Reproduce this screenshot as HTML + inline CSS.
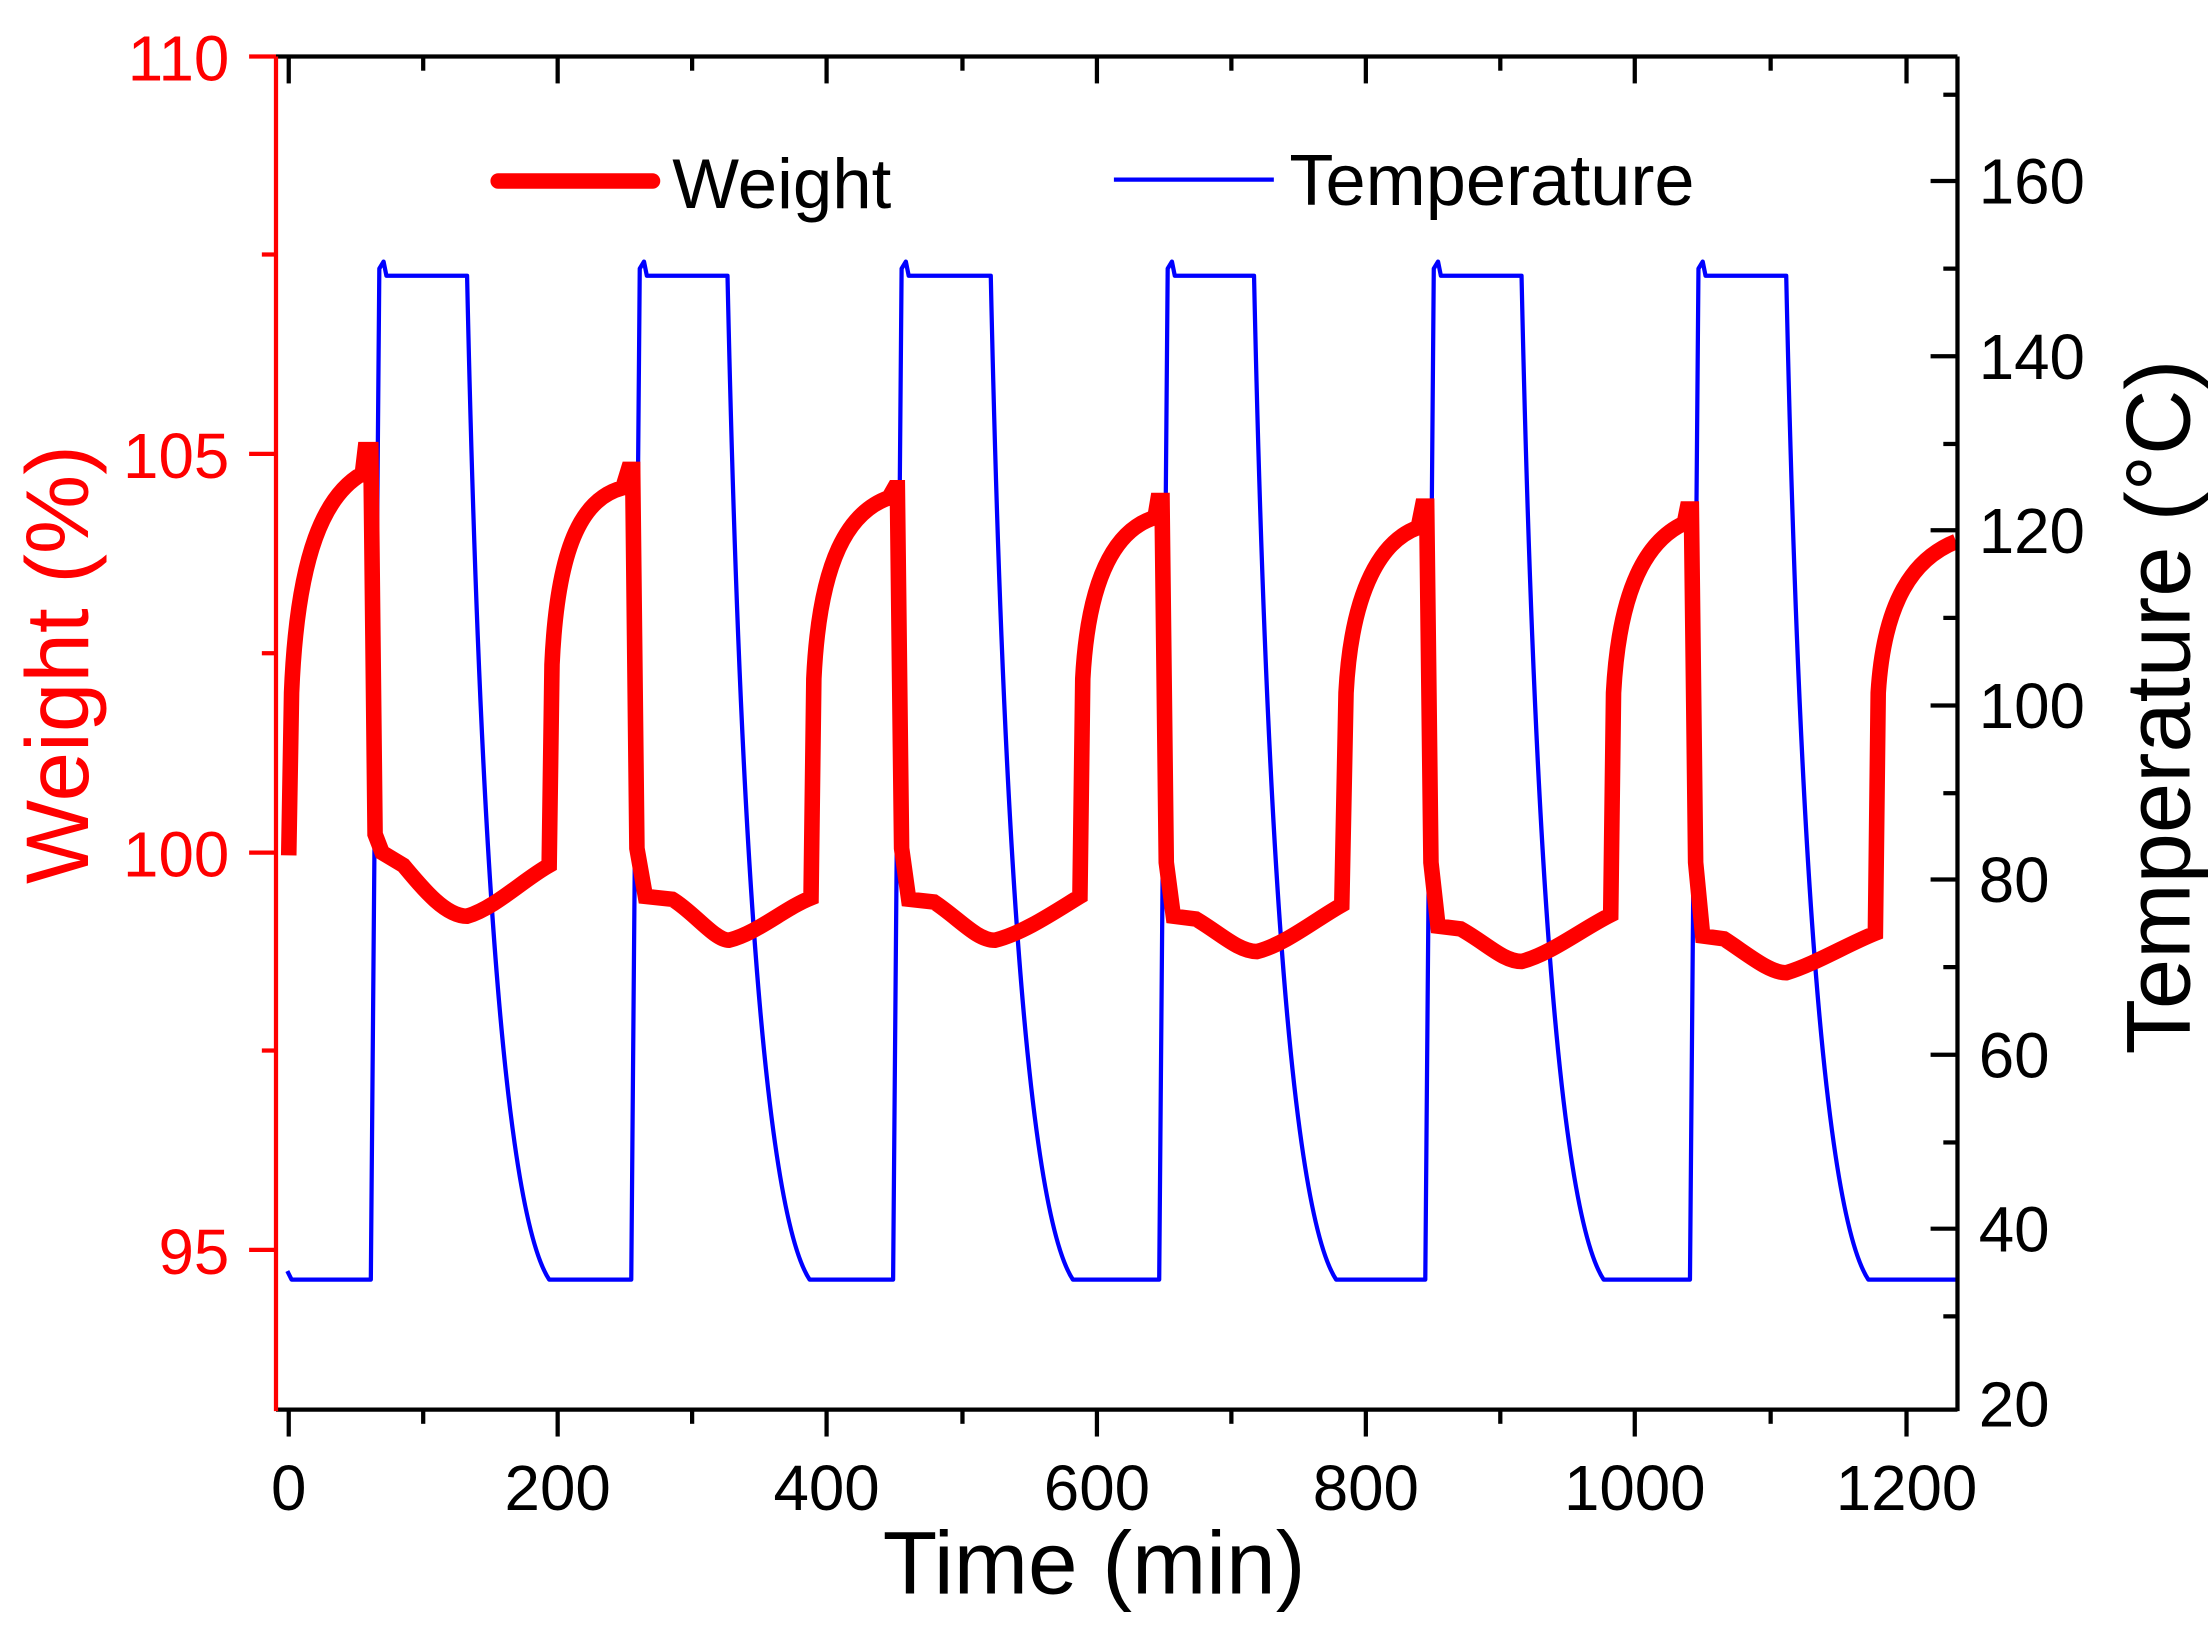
<!DOCTYPE html>
<html><head><meta charset="utf-8"><style>
html,body{margin:0;padding:0;background:#fff;}
svg{display:block;}
text{font-family:"Liberation Sans",Arial,sans-serif;}
</style></head><body>
<svg width="2208" height="1626" viewBox="0 0 1560 1150" preserveAspectRatio="none" xmlns="http://www.w3.org/2000/svg">
<rect width="1560" height="1150" fill="#fff"/>
<!-- temperature -->
<path fill="none" stroke="#0000ff" stroke-width="3" stroke-linejoin="round" d="
M203,899 L206,905 L262,905 L268,190 L271,185 L273,195 L330,195 C337,520 352,850 388,905 L446,905
L452,190 L455,185 L457,195 L514,195 C521,520 536,850 572,905 L631,905
L637,190 L640,185 L642,195 L700,195 C707,520 722,850 758,905 L819,905
L825,190 L828,185 L830,195 L886,195 C893,520 908,850 944,905 L1007,905
L1013,190 L1016,185 L1018,195 L1075,195 C1082,520 1097,850 1133,905 L1194,905
L1200,190 L1203,185 L1205,195 L1262,195 C1269,520 1284,850 1320,905 L1382,905"/>
<!-- weight -->
<path fill="none" stroke="#ff0000" stroke-width="11" stroke-linejoin="miter" d="
M204,605 L206,490 C210,390 230,350 256,335 L258,318 L262,318 L265,590 L270,603 L285,612 C300,630 315,648 330,648 C350,642 370,622 388,612
L390,470 C394,380 414,352 440,345 L444,332 L447,332 L450,600 L456,634 L475,636 C490,645 505,665 515,665 C535,660 555,642 573,635
L575,480 C579,395 600,362 628,352 L632,345 L634,345 L637,600 L642,636 L660,638 C678,650 690,665 703,665 C723,660 745,645 763,634
L765,480 C769,405 790,374 816,366 L818,354 L821,354 L824,610 L829,648 L845,650 C862,660 875,673 888,673 C908,668 930,650 948,640
L951,490 C955,415 977,382 1002,373 L1005,358 L1008,358 L1011,610 L1016,655 L1032,657 C1050,667 1062,680 1075,680 C1095,675 1118,657 1138,647
L1140,490 C1144,415 1164,382 1190,370 L1192,360 L1195,360 L1198,610 L1203,662 L1218,664 C1235,675 1250,688 1262,688 C1282,682 1305,668 1325,660
L1327,490 C1331,425 1352,395 1382,383"/>
<!-- axes -->
<line x1="195" y1="40" x2="1383" y2="40" stroke="#000" stroke-width="3"/>
<line x1="195" y1="997" x2="1383" y2="997" stroke="#000" stroke-width="3"/>
<line x1="1383" y1="40" x2="1383" y2="998" stroke="#000" stroke-width="3"/>
<line x1="195" y1="40" x2="195" y2="998" stroke="#ff0000" stroke-width="3"/>
<g stroke="#ff0000" stroke-width="3">
<line x1="176" y1="40" x2="195" y2="40"/><line x1="176" y1="321" x2="195" y2="321"/>
<line x1="176" y1="603" x2="195" y2="603"/><line x1="176" y1="884" x2="195" y2="884"/>
<line x1="185" y1="180" x2="195" y2="180"/><line x1="185" y1="462" x2="195" y2="462"/><line x1="185" y1="743" x2="195" y2="743"/>
</g>
<g fill="#ff0000" font-size="45" text-anchor="end">
<text x="162" y="57">110</text><text x="162" y="338">105</text><text x="162" y="620">100</text><text x="162" y="901">95</text>
</g>
<g stroke="#000" stroke-width="3">
<line x1="204" y1="997" x2="204" y2="1016"/><line x1="394" y1="997" x2="394" y2="1016"/><line x1="584" y1="997" x2="584" y2="1016"/>
<line x1="775" y1="997" x2="775" y2="1016"/><line x1="965" y1="997" x2="965" y2="1016"/><line x1="1155" y1="997" x2="1155" y2="1016"/><line x1="1347" y1="997" x2="1347" y2="1016"/>
<line x1="299" y1="997" x2="299" y2="1007"/><line x1="489" y1="997" x2="489" y2="1007"/><line x1="680" y1="997" x2="680" y2="1007"/>
<line x1="870" y1="997" x2="870" y2="1007"/><line x1="1060" y1="997" x2="1060" y2="1007"/><line x1="1251" y1="997" x2="1251" y2="1007"/>
<line x1="204" y1="40" x2="204" y2="59"/><line x1="394" y1="40" x2="394" y2="59"/><line x1="584" y1="40" x2="584" y2="59"/>
<line x1="775" y1="40" x2="775" y2="59"/><line x1="965" y1="40" x2="965" y2="59"/><line x1="1155" y1="40" x2="1155" y2="59"/><line x1="1347" y1="40" x2="1347" y2="59"/>
<line x1="299" y1="40" x2="299" y2="50"/><line x1="489" y1="40" x2="489" y2="50"/><line x1="680" y1="40" x2="680" y2="50"/>
<line x1="870" y1="40" x2="870" y2="50"/><line x1="1060" y1="40" x2="1060" y2="50"/><line x1="1251" y1="40" x2="1251" y2="50"/>
</g>
<g fill="#000" font-size="45" text-anchor="middle">
<text x="204" y="1068">0</text><text x="394" y="1068">200</text><text x="584" y="1068">400</text><text x="775" y="1068">600</text>
<text x="965" y="1068">800</text><text x="1155" y="1068">1000</text><text x="1347" y="1068">1200</text>
</g>
<g stroke="#000" stroke-width="3">
<line x1="1364" y1="128" x2="1383" y2="128"/><line x1="1364" y1="252" x2="1383" y2="252"/><line x1="1364" y1="375" x2="1383" y2="375"/>
<line x1="1364" y1="499" x2="1383" y2="499"/><line x1="1364" y1="622" x2="1383" y2="622"/><line x1="1364" y1="746" x2="1383" y2="746"/>
<line x1="1364" y1="869" x2="1383" y2="869"/>
<line x1="1373" y1="67" x2="1383" y2="67"/><line x1="1373" y1="190" x2="1383" y2="190"/><line x1="1373" y1="314" x2="1383" y2="314"/>
<line x1="1373" y1="437" x2="1383" y2="437"/><line x1="1373" y1="561" x2="1383" y2="561"/><line x1="1373" y1="684" x2="1383" y2="684"/>
<line x1="1373" y1="808" x2="1383" y2="808"/><line x1="1373" y1="931" x2="1383" y2="931"/>
</g>
<g fill="#000" font-size="45">
<text x="1398" y="144">160</text><text x="1398" y="268">140</text><text x="1398" y="391">120</text><text x="1398" y="515">100</text>
<text x="1398" y="638">80</text><text x="1398" y="762">60</text><text x="1398" y="885">40</text><text x="1398" y="1009">20</text>
</g>
<!-- legend -->
<line x1="352" y1="128" x2="461" y2="128" stroke="#ff0000" stroke-width="11" stroke-linecap="round"/>
<text x="475" y="147" font-size="50" fill="#000">Weight</text>
<line x1="787" y1="127" x2="900" y2="127" stroke="#0000ff" stroke-width="3"/>
<text x="911" y="145" font-size="51" fill="#000">Temperature</text>
<!-- axis titles -->
<text x="773" y="1127" font-size="63" text-anchor="middle" fill="#000">Time (min)</text>
<text transform="translate(62,470) rotate(-90)" font-size="63" text-anchor="middle" fill="#ff0000">Weight (%)</text>
<text transform="translate(1547,500) rotate(-90)" font-size="64" text-anchor="middle" fill="#000">Temperature (°C)</text>
</svg>
</body></html>
